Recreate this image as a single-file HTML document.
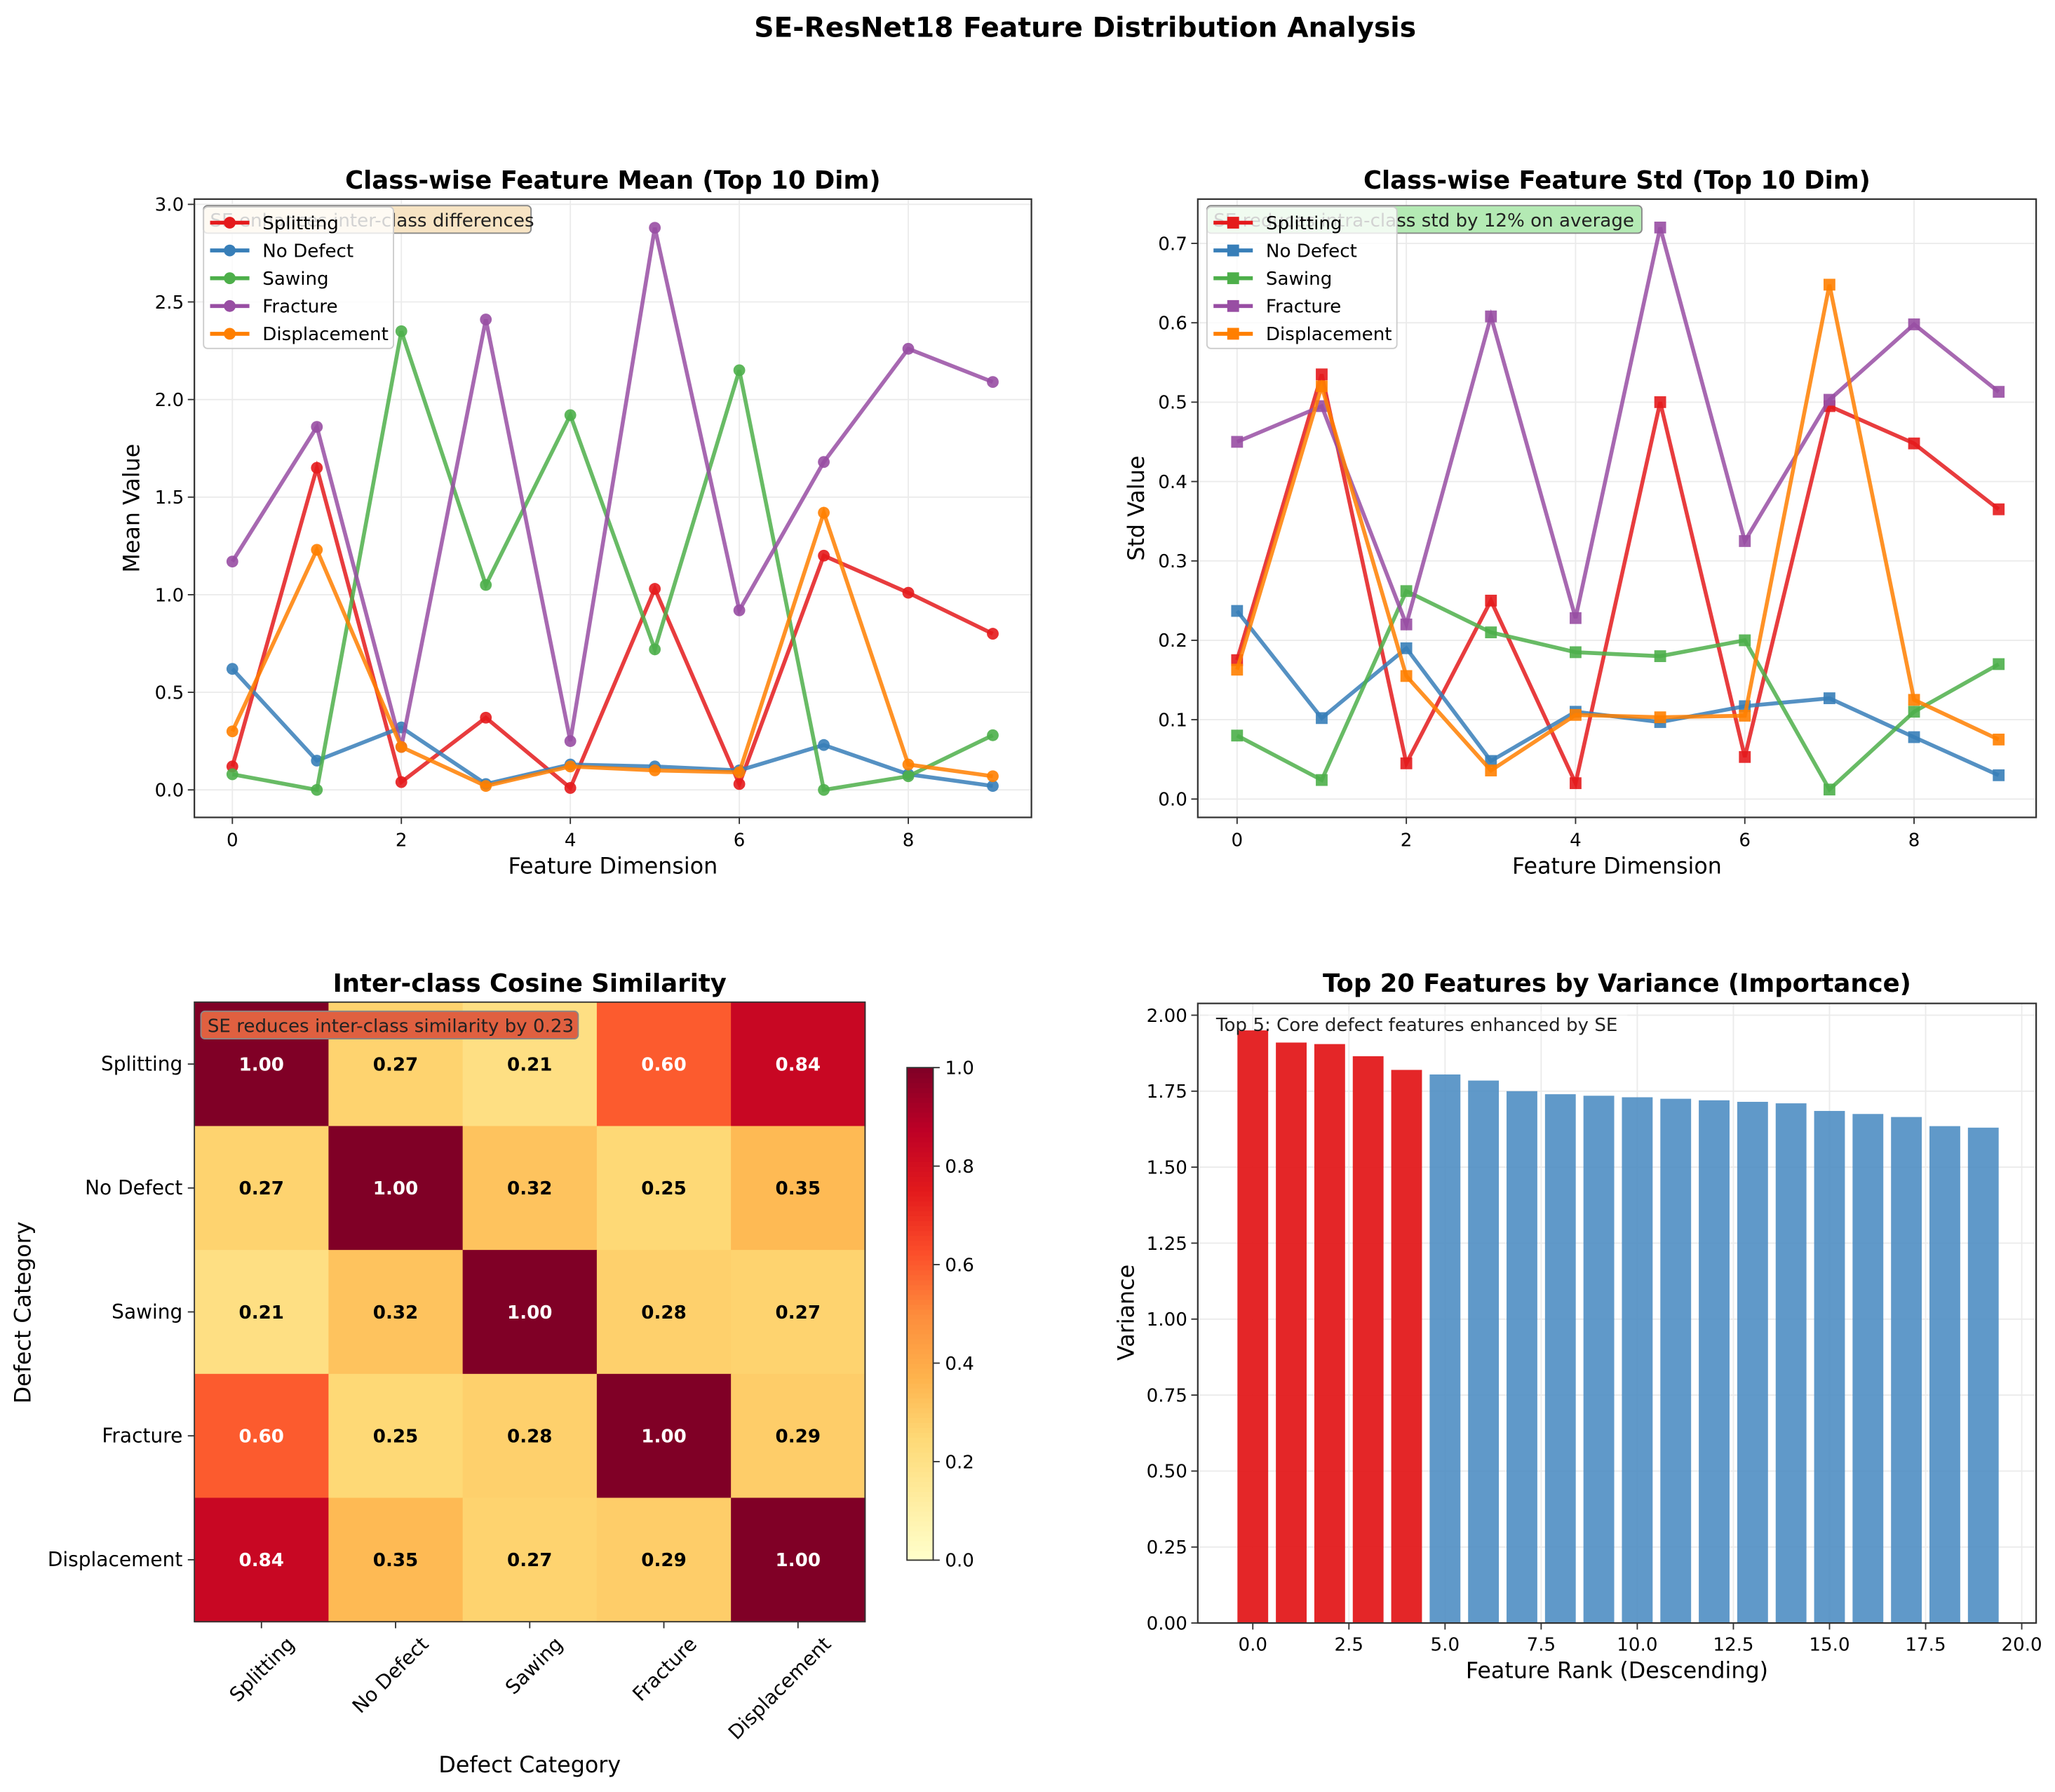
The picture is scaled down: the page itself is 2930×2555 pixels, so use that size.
<!DOCTYPE html>
<html><head><meta charset="utf-8"><style>
html,body{margin:0;padding:0;background:#fff;}
svg{display:block;font-family:"DejaVu Sans","Liberation Sans",sans-serif;}
</style></head><body>
<svg id="fig" width="2930" height="2555" viewBox="0 0 1568 1368" xmlns="http://www.w3.org/2000/svg">
<rect width="1568" height="1368" fill="#fff"/>
<text x="828" y="28" text-anchor="middle" font-size="21" font-weight="bold">SE-ResNet18 Feature Distribution Analysis</text>
</svg>
<script>
const classes = ["Splitting","No Defect","Sawing","Fracture","Displacement"];
const colors = ["#e41a1c","#377eb8","#4daf4a","#984ea3","#ff7f00"];
const meanSplitting = [0.12,1.65,0.04,0.37,0.01,1.03,0.03,1.20,1.01,0.80];
const meanNoDefect = [0.62,0.15,0.32,0.03,0.13,0.12,0.10,0.23,0.08,0.02];
const meanSawing = [0.08,0.00,2.35,1.05,1.92,0.72,2.15,0.00,0.07,0.28];
const meanFracture = [1.17,1.86,0.22,2.41,0.25,2.88,0.92,1.68,2.26,2.09];
const meanDisplacement = [0.30,1.23,0.22,0.02,0.12,0.10,0.09,1.42,0.13,0.07];
const stdSplitting = [0.175,0.535,0.045,0.25,0.02,0.50,0.053,0.495,0.448,0.365];
const stdNoDefect = [0.237,0.102,0.19,0.048,0.11,0.097,0.117,0.127,0.078,0.03];
const stdSawing = [0.08,0.024,0.262,0.21,0.185,0.18,0.20,0.012,0.11,0.17];
const stdFracture = [0.45,0.495,0.22,0.608,0.228,0.72,0.325,0.503,0.598,0.513];
const stdDisplacement = [0.163,0.52,0.155,0.036,0.106,0.103,0.105,0.648,0.125,0.075];
const simMatrix = [
 [1.00,0.27,0.21,0.60,0.84],
 [0.27,1.00,0.32,0.25,0.35],
 [0.21,0.32,1.00,0.28,0.27],
 [0.60,0.25,0.28,1.00,0.29],
 [0.84,0.35,0.27,0.29,1.00]];
const variances = [1.95,1.91,1.905,1.865,1.82,1.805,1.785,1.75,1.74,1.735,1.73,1.725,1.72,1.715,1.71,1.685,1.675,1.665,1.635,1.63];
const meanTicks = [0,0.5,1.0,1.5,2.0,2.5,3.0];
const stdTicks = [0,0.1,0.2,0.3,0.4,0.5,0.6,0.7];
const dimTicks = [0,2,4,6,8];
const varTicks = [0,0.25,0.5,0.75,1.0,1.25,1.5,1.75,2.0];
const rankTicks = [0,2.5,5,7.5,10,12.5,15,17.5,20];
const cbTicks = [0,0.2,0.4,0.6,0.8,1.0];

const NS="http://www.w3.org/2000/svg";
const svg=document.getElementById('fig');
function el(tag,attrs,parent,text){const e=document.createElementNS(NS,tag);for(const k in attrs)e.setAttribute(k,attrs[k]);if(text!==undefined)e.textContent=text;(parent||svg).appendChild(e);return e;}
function grp(name){const g=document.createElementNS(NS,'g');


svg.appendChild(g);return g;}
function fmt(v,d){return v.toFixed(d);}

function linePanel(o){
  const g=grp(o.name);
  const sx=v=>o.x0+(v-o.xmin)*o.xs, sy=v=>o.y0-(v-o.ymin)*o.ys;
  // grid
  for(const t of o.yticks){el('line',{x1:o.L,x2:o.R,y1:sy(t),y2:sy(t),stroke:'#ebebeb','stroke-width':1},g);}
  for(const t of o.xticks){el('line',{x1:sx(t),x2:sx(t),y1:o.T,y2:o.B,stroke:'#ebebeb','stroke-width':1},g);}
  // series
  o.series.forEach((s,i)=>{
    const sg=document.createElementNS(NS,'g');
    
    
    g.appendChild(sg);
    el('polyline',{points:s.map((v,j)=>sx(j)+','+sy(v)).join(' '),fill:'none',stroke:colors[i],'stroke-width':3,'stroke-opacity':0.85},sg);
    s.forEach((v,j)=>{
      if(o.marker==='o') el('circle',{cx:sx(j),cy:sy(v),r:4.5,fill:colors[i],'fill-opacity':0.9},sg);
      else el('rect',{x:sx(j)-4.5,y:sy(v)-4.5,width:9,height:9,fill:colors[i],'fill-opacity':0.9},sg);
    });
  });
  el('rect',{x:o.L,y:o.T,width:o.R-o.L,height:o.B-o.T,fill:'none',stroke:'#333','stroke-width':1.2},g);
  for(const t of o.yticks){const y=sy(t);el('line',{x1:o.L-5,x2:o.L,y1:y,y2:y,stroke:'#333'},g);
    el('text',{x:o.L-8,y:y+5,'text-anchor':'end','font-size':14},g,fmt(t,o.yd));}
  for(const t of o.xticks){const x=sx(t);el('line',{x1:x,x2:x,y1:o.B,y2:o.B+5,stroke:'#333'},g);
    el('text',{x:x,y:o.B+22,'text-anchor':'middle','font-size':14},g,String(t));}
  el('text',{x:(o.L+o.R)/2,y:o.T-8,'text-anchor':'middle','font-size':19,'font-weight':'bold'},g,o.title);
  el('text',{x:(o.L+o.R)/2,y:667,'text-anchor':'middle','font-size':17},g,'Feature Dimension');
  el('text',{x:0,y:0,'text-anchor':'middle','font-size':17,transform:`translate(${o.ylx},${(o.T+o.B)/2}) rotate(-90)`},g,o.ylabel);
  // annotation
  el('rect',{x:o.L+7,y:157,width:o.annW,height:21,rx:3,fill:o.annFill,stroke:'#888'},g);
  el('text',{x:o.L+12,y:173,'font-size':14,fill:'#222'},g,o.ann);
  // legend
  el('rect',{x:o.L+7,y:158,width:145,height:108,rx:3,fill:'#fff','fill-opacity':0.8,stroke:'#ccc'},g);
  classes.forEach((c,i)=>{const y=170+i*21.2;
    el('line',{x1:o.L+12,x2:o.L+42,y1:y,y2:y,stroke:colors[i],'stroke-width':3},g);
    if(o.marker==='o')el('circle',{cx:o.L+27,cy:y,r:4.5,fill:colors[i]},g);else el('rect',{x:o.L+22.5,y:y-4.5,width:9,height:9,fill:colors[i]},g);
    el('text',{x:o.L+52,y:y+5,'font-size':14},g,c);});
}
linePanel({name:'mean-chart',L:148,R:787,T:152,B:624,x0:177,xmin:0,xs:64.5,y0:603,ymin:0,ys:149,
  yticks:meanTicks,xticks:dimTicks,yd:1,series:[meanSplitting,meanNoDefect,meanSawing,meanFracture,meanDisplacement],
  marker:'o',title:'Class-wise Feature Mean (Top 10 Dim)',ylabel:'Mean Value',ylx:106,
  ann:'SE enhances inter-class differences',annW:250,annFill:'#f7e4c4'});
linePanel({name:'std-chart',L:914,R:1554,T:152,B:624,x0:944,xmin:0,xs:64.6,y0:610,ymin:0,ys:606,
  yticks:stdTicks,xticks:dimTicks,yd:1,series:[stdSplitting,stdNoDefect,stdSawing,stdFracture,stdDisplacement],
  marker:'s',title:'Class-wise Feature Std (Top 10 Dim)',ylabel:'Std Value',ylx:873,
  ann:'SE reduces intra-class std by 12% on average',annW:332,annFill:'#b4eab4'});

// heatmap
const stops=['#ffffcc','#ffeda0','#fed976','#feb24c','#fd8d3c','#fc4e2a','#e31a1c','#bd0026','#800026'];
function hex(h){return [1,3,5].map(i=>parseInt(h.substr(i,2),16));}
function cmap(v){v=Math.max(0,Math.min(1,v));const p=v*(stops.length-1),i=Math.min(Math.floor(p),stops.length-2),f=p-i;
  const a=hex(stops[i]),b=hex(stops[i+1]);return 'rgb('+a.map((c,k)=>Math.round(c+(b[k]-c)*f)).join(',')+')';}
(function(){
  const g=grp('similarity-heatmap');
  const L=148,T=765,cw=102.4,ch=94.6;
  simMatrix.forEach((row,r)=>row.forEach((v,c)=>{
    const cell=el('rect',{x:L+c*cw,y:T+r*ch,width:cw+0.5,height:ch+0.5,fill:cmap(v)},g);
    
    
    el('text',{x:L+c*cw+cw/2,y:T+r*ch+ch/2+5,'text-anchor':'middle','font-size':14,'font-weight':'bold',fill:v>0.5?'#fff':'#000'},g,fmt(v,2));
  }));
  el('rect',{x:L,y:T,width:cw*5,height:ch*5,fill:'none',stroke:'#333'},g);
  classes.forEach((c,i)=>{const y=T+i*ch+ch/2;
    el('line',{x1:L-5,x2:L,y1:y,y2:y,stroke:'#333'},g);
    el('text',{x:L-9,y:y+5,'text-anchor':'end','font-size':15},g,c);
    const x=L+i*cw+cw/2;
    el('line',{x1:x,x2:x,y1:T+ch*5,y2:T+ch*5+5,stroke:'#333'},g);
    el('text',{x:0,y:0,'text-anchor':'end','font-size':15,transform:`translate(${x+26},${T+ch*5+18}) rotate(-45)`},g,c);});
  el('text',{x:404,y:757,'text-anchor':'middle','font-size':19,'font-weight':'bold'},g,'Inter-class Cosine Similarity');
  el('text',{x:404,y:1353,'text-anchor':'middle','font-size':17},g,'Defect Category');
  el('text',{x:0,y:0,'text-anchor':'middle','font-size':17,transform:`translate(23,1002) rotate(-90)`},g,'Defect Category');
  el('rect',{x:153,y:772,width:288,height:21,rx:3,fill:'#e06040',stroke:'#888'},g);
  el('text',{x:158,y:788,'font-size':14,fill:'#222'},g,'SE reduces inter-class similarity by 0.23');
  // colorbar
  const cb=grp('colorbar');const cx=692,ct=815,cbh=376;
  for(let k=0;k<100;k++){el('rect',{x:cx,y:ct+cbh*(1-(k+1)/100),width:20,height:cbh/100+0.6,fill:cmap((k+0.5)/100)},cb);}
  el('rect',{x:cx,y:ct,width:20,height:cbh,fill:'none',stroke:'#333'},cb);
  cbTicks.forEach(t=>{const y=ct+cbh*(1-t);el('line',{x1:cx+20,x2:cx+25,y1:y,y2:y,stroke:'#333'},cb);
    el('text',{x:cx+29,y:y+5,'font-size':14},cb,fmt(t,1));});
})();

// bar chart
(function(){
  const g=grp('variance-bar-chart');
  const L=914,R=1554,T=766,B=1239;
  const sx=v=>956+v*29.35, sy=v=>1239-v*232;
  varTicks.forEach(t=>el('line',{x1:L,x2:R,y1:sy(t),y2:sy(t),stroke:'#ebebeb'},g));
  rankTicks.forEach(t=>el('line',{x1:sx(t),x2:sx(t),y1:T,y2:B,stroke:'#ebebeb'},g));
  variances.forEach((v,i)=>{const b=el('rect',{x:sx(i-0.4),y:sy(v),width:0.8*29.35,height:sy(0)-sy(v),fill:i<5?'#e31a1c':'#4a8bc2','fill-opacity':i<5?0.95:0.88},g);
    
    });
  el('rect',{x:L,y:T,width:R-L,height:B-T,fill:'none',stroke:'#333','stroke-width':1.2},g);
  varTicks.forEach(t=>{const y=sy(t);el('line',{x1:L-5,x2:L,y1:y,y2:y,stroke:'#333'},g);
    el('text',{x:L-8,y:y+5,'text-anchor':'end','font-size':14},g,fmt(t,2));});
  rankTicks.forEach(t=>{const x=sx(t);el('line',{x1:x,x2:x,y1:B,y2:B+5,stroke:'#333'},g);
    el('text',{x:x,y:B+21,'text-anchor':'middle','font-size':14},g,fmt(t,1));});
  el('rect',{x:922,y:772,width:320,height:12,fill:'#fff','fill-opacity':0.3},g);
  el('text',{x:928,y:787,'font-size':14,fill:'#222'},g,'Top 5: Core defect features enhanced by SE');
  el('text',{x:1234,y:757,'text-anchor':'middle','font-size':19,'font-weight':'bold'},g,'Top 20 Features by Variance (Importance)');
  el('text',{x:1234,y:1281,'text-anchor':'middle','font-size':17},g,'Feature Rank (Descending)');
  el('text',{x:0,y:0,'text-anchor':'middle','font-size':17,transform:`translate(865,1002) rotate(-90)`},g,'Variance');
})();
</script>
</body></html>
